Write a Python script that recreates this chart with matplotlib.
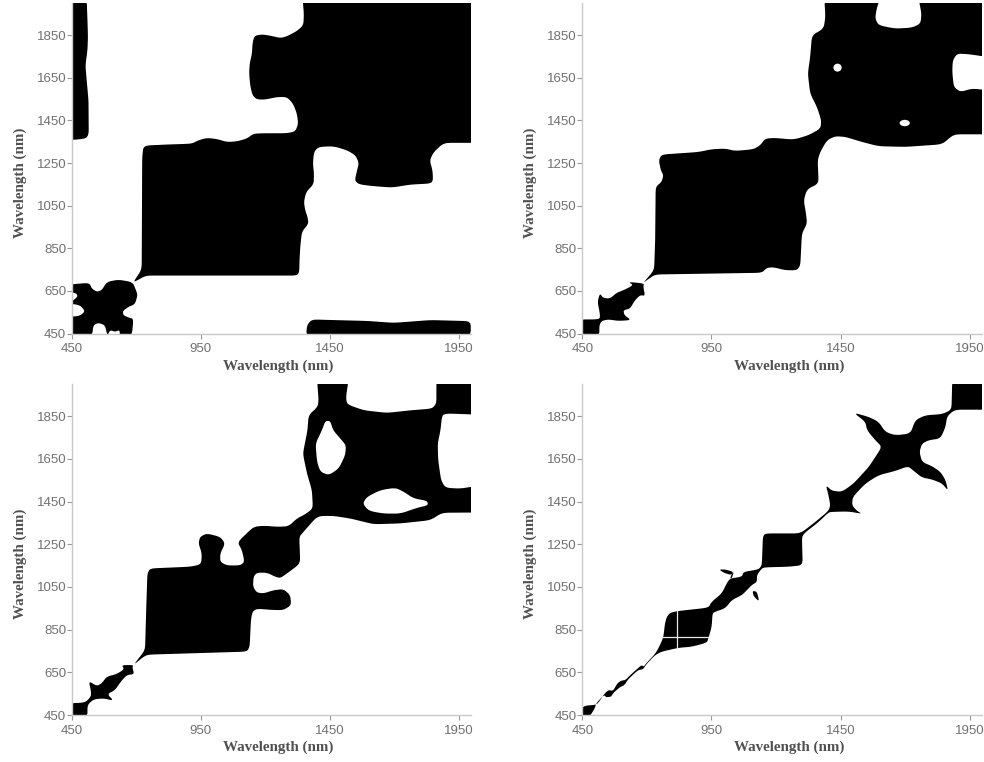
import matplotlib
matplotlib.use("Agg")
import math
import matplotlib.pyplot as plt

# Outlines of the black regions (wavelength x, wavelength y in nm)
a_strip = [(440,2020),(508,2020),(511,1920),(513,1842),(511,1779),(503,1709),(508,1639),(515,1545),(516,1388),(506,1365),(440,1357)]
a_main = [(1344,2020),(1349,1951),(1347,1897),(1322,1870),(1283,1845),(1258,1837),(1219,1848),(1186,1854),(1157,1847),
          (1150,1811),(1148,1764),(1139,1717),(1137,1670),(1141,1615),(1150,1568),(1167,1549),(1199,1548),(1245,1560),
          (1283,1560),(1307,1529),(1322,1482),(1327,1435),(1316,1399),(1283,1390),(1193,1390),(1154,1388),(1128,1365),
          (1090,1352),(1051,1349),(1012,1363),(973,1368),(941,1357),(915,1341),(818,1337),(728,1332),(723,1279),(721,763),
          (715,739),(689,692),(705,700),(728,716),(747,722),(1322,722),(1331,739),(1332,794),(1335,857),(1341,927),
          (1367,966),(1363,997),(1354,1029),(1349,1068),(1358,1115),(1387,1151),(1388,1201),(1384,1248),(1388,1302),
          (1406,1326),(1464,1329),(1516,1310),(1548,1287),(1562,1251),(1555,1216),(1546,1169),(1561,1151),(1606,1143),
          (1690,1135),(1761,1149),(1839,1154),(1849,1169),(1847,1216),(1836,1263),(1852,1302),(1891,1345),(2020,1345),(2020,2020)]
a_blob = [(440,680),(518,688),(528,661),(547,646),(566,653),(586,692),(631,703),(686,691),(699,653),(705,630),(695,588),
          (670,575),(648,556),(650,536),(670,525),(689,519),(683,440),(637,440),(635,466),(618,458),(599,466),(588,440),
          (579,489),(553,500),(534,489),(529,440),(440,440),(440,528),(482,533),(502,555),(482,583),(440,591),(473,622),
          (469,638),(440,646)]
a_bottom = [(1358,440),(1361,489),(1380,516),(1464,513),(1593,509),(1697,500),(1839,513),(1995,508),(1995,440)]

b_main = [(1387,2020),(1391,1936),(1384,1881),(1339,1850),(1332,1748),(1323,1670),(1332,1576),(1358,1514),(1375,1451),
          (1372,1412),(1326,1381),(1268,1360),(1197,1368),(1158,1365),(1139,1334),(1113,1315),(1042,1307),(1003,1318),
          (951,1315),(900,1302),(757,1290),(746,1263),(754,1216),(764,1193),(757,1162),(734,1138),(732,888),(728,747),
          (686,688),(703,703),(732,727),(1145,735),(1164,758),(1190,761),(1236,747),(1281,747),(1294,771),(1300,919),
          (1320,966),(1316,1013),(1307,1076),(1320,1127),(1365,1154),(1361,1263),(1371,1302),(1397,1357),(1429,1376),
          (1468,1373),(1533,1349),(1597,1329),(1701,1326),(1843,1338),(1888,1385),(2020,1385),(2020,1592),(1959,1600),
          (1914,1584),(1888,1607),(1882,1678),(1884,1732),(1901,1764),(1946,1761),(2020,1748),(2020,2020),(1752,2020),
          (1763,1951),(1759,1905),(1727,1886),(1662,1881),(1597,1897),(1584,1928),(1588,1967),(1601,2020)]
b_blob = [(440,440),(516,440),(516,489),(525,509),(551,516),(590,509),(639,513),(613,536),(609,559),(635,567),(654,606),
          (674,630),(693,627),(686,669),(689,685),(628,692),(648,677),(609,653),(583,641),(557,614),(531,617),(518,638),
          (509,599),(518,544),(518,520),(499,516),(440,516)]
b_hole1 = [(1421,1698),(1426,1712),(1438,1718),(1450,1712),(1455,1698),(1450,1684),(1438,1678),(1426,1684)]
b_hole2 = [(1677,1438),(1683,1449),(1698,1454),(1713,1449),(1719,1438),(1713,1427),(1698,1422),(1683,1427)]

c_main = [(1400,2020),(1406,1925),(1402,1894),(1367,1855),(1363,1785),(1345,1675),(1361,1582),(1380,1504),(1384,1418),
          (1354,1391),(1322,1371),(1290,1335),(1251,1332),(1193,1337),(1154,1332),(1092,1260),(1109,1223),(1119,1168),
          (1102,1151),(1051,1151),(1025,1168),(1025,1207),(1044,1254),(1025,1285),(973,1301),(947,1285),(941,1254),
          (954,1207),(951,1156),(909,1145),(754,1137),(743,1113),(738,926),(734,754),(689,684),(728,723),(747,733),
          (1128,747),(1139,770),(1144,895),(1150,934),(1167,948),(1232,942),(1270,942),(1300,965),(1296,1012),(1270,1040),
          (1232,1035),(1193,1020),(1167,1024),(1152,1051),(1154,1098),(1167,1117),(1206,1117),(1238,1098),(1258,1092),
          (1283,1113),(1335,1160),(1331,1285),(1348,1309),(1393,1371),(1413,1383),(1464,1383),(1529,1371),(1619,1344),
          (1723,1348),(1839,1363),(1884,1398),(2020,1399),(2020,1524),(1955,1511),(1897,1515),(1880,1551),(1869,1644),
          (1867,1722),(1878,1785),(1884,1855),(1904,1863),(2020,1858),(2020,2020),(1862,2020),(1862,1910),(1845,1886),
          (1761,1878),(1671,1866),(1581,1878),(1516,1906),(1512,1941),(1522,2020)]
c_blob = [(440,440),(511,440),(511,497),(534,523),(573,528),(612,517),(588,548),(618,567),(640,606),(663,637),(692,642),
          (685,673),(689,684),(644,684),(653,664),(624,642),(586,630),(566,598),(547,586),(516,609),(525,559),(524,536),
          (502,508),(440,505)]
c_hole1 = [(1432,1828),(1451,1828),(1462,1785),(1490,1746),(1512,1714),(1509,1668),(1484,1605),(1445,1574),(1413,1590),
           (1400,1636),(1394,1722),(1419,1785)]
c_hole2 = [(1577,1441),(1593,1472),(1645,1504),(1703,1515),(1736,1496),(1774,1465),(1826,1454),(1830,1433),(1787,1421),
           (1723,1394),(1658,1394),(1600,1407)]

d_main = [(1882,2020),(2020,2020),(2020,1881),(1892,1881),(1862,1850),(1856,1800),(1836,1746),(1791,1738),(1765,1722),
          (1755,1683),(1765,1636),(1804,1616),(1836,1590),(1856,1551),(1866,1501),(1843,1535),(1804,1554),(1765,1563),
          (1733,1594),(1711,1616),(1662,1594),(1597,1574),(1546,1535),(1497,1472),(1494,1433),(1513,1407),(1533,1393),
          (1481,1404),(1416,1402),(1403,1399),(1365,1355),(1300,1293),(1303,1152),(1248,1145),(1158,1142),(1145,1137),
          (1126,1106),(1126,1074),(1106,1059),(1087,1035),(1068,1012),(1029,989),(1003,950),(964,934),(954,926),(951,864),
          (938,809),(932,789),(874,770),(822,765),(757,747),(732,731),(698,688),(685,664),(666,661),(627,617),(614,591),
          (595,580),(569,552),(562,536),(543,533),(534,544),(504,505),(498,481),(485,455),(473,440),(440,440),(440,477),
          (462,494),(498,497),(511,505),(537,552),(552,567),(569,563),(586,599),(601,611),(617,614),(640,642),(670,674),
          (679,683),(688,677),(698,693),(734,739),(754,786),(764,817),(770,879),(777,910),(790,929),(818,937),(938,953),
          (951,981),(990,1020),(1009,1067),(1022,1090),(1068,1098),(1074,1121),(1132,1132),(1145,1152),(1149,1285),
          (1158,1301),(1294,1301),(1352,1355),(1403,1407),(1410,1433),(1403,1480),(1393,1527),(1416,1501),(1455,1496),
          (1500,1535),(1559,1613),(1610,1707),(1584,1738),(1552,1785),(1546,1824),(1500,1867),(1559,1847),(1597,1824),
          (1623,1777),(1662,1761),(1720,1769),(1739,1832),(1778,1855),(1843,1860),(1879,1881)]
d_island1 = [(980,1132),(1003,1132),(1035,1121),(1026,1106),(997,1117)]
d_stem = [(1022,1090),(1031,1117),(1036,1117),(1028,1090)]
d_island2 = [(1109,1032),(1126,1028),(1135,981),(1113,1007)]
d_gap_x = [818, 818]
d_gap_y = [762, 937]
d_gap2_x = [764, 938]
d_gap2_y = [817, 817]

xtick_vals = [450, 950, 1450, 1950]
ytick_vals = [450, 650, 850, 1050, 1250, 1450, 1650, 1850]

W, H = 984, 762
fig = plt.figure(figsize=(W / 100, H / 100), dpi=100)


def make_axes(left, right, top, bottom):
    ax = fig.add_axes([left / W, 1 - bottom / H, (right - left) / W, (bottom - top) / H])
    ax.set_xlim(450, 1996)
    ax.set_ylim(450, 2000)
    for s in ["top", "right"]:
        ax.spines[s].set_visible(False)
    for s in ["left", "bottom"]:
        ax.spines[s].set_color("#c8c8c8")
        ax.spines[s].set_linewidth(1.0)
    ax.set_xticks(xtick_vals)
    ax.set_yticks(ytick_vals)
    ax.tick_params(length=3.5, width=0.8, color="#999999", labelcolor="#707070", labelsize=9.5)
    ax.tick_params(axis="x", pad=3.5)
    ax.tick_params(axis="y", pad=0.5)
    for lab in ax.get_xticklabels() + ax.get_yticklabels():
        lab.set_fontfamily("Liberation Sans")
    ax.set_xlabel("Wavelength (nm)", family="Liberation Serif", weight="bold", fontsize=10.8, color="#505050")
    ax.set_ylabel("Wavelength (nm)", family="Liberation Serif", weight="bold", fontsize=10.8, color="#505050")
    ax.xaxis.set_label_coords(0.517, -0.078, transform=ax.transAxes)
    ax.yaxis.set_label_coords(-0.113, 0.456, transform=ax.transAxes)
    return ax


# round off the corners of an outline so it does not look faceted
# the cut is capped so long straight edges keep their square corners
def soften(pts, ratio=0.2, max_cut=12, passes=2):
    for _ in range(passes):
        out = []
        for i in range(len(pts)):
            x0, y0 = pts[i]
            x1, y1 = pts[(i + 1) % len(pts)]
            r = min(ratio, max_cut / max(math.hypot(x1 - x0, y1 - y0), 1))
            out.append((x0 + r * (x1 - x0), y0 + r * (y1 - y0)))
            out.append((x1 - r * (x1 - x0), y1 - r * (y1 - y0)))
        pts = out
    return pts


def fill_all(ax, shapes, color="black"):
    for pts in shapes:
        pts = soften(pts)
        ax.fill([p[0] for p in pts], [p[1] for p in pts], color=color, lw=0, zorder=2 if color == "black" else 3)


ax1 = make_axes(71.7, 471, 3.3, 333.5)
fill_all(ax1, [a_strip, a_main, a_blob, a_bottom])

ax2 = make_axes(582.3, 981.7, 3.3, 333.5)
fill_all(ax2, [b_main, b_blob])
fill_all(ax2, [b_hole1, b_hole2], "white")

ax3 = make_axes(71.7, 471, 384.3, 715)
fill_all(ax3, [c_main, c_blob])
fill_all(ax3, [c_hole1, c_hole2], "white")

ax4 = make_axes(582.3, 981.7, 384.3, 715)
fill_all(ax4, [d_main, d_island1, d_stem, d_island2])
ax4.plot(d_gap_x, d_gap_y, color="#e8e8e8", lw=0.9, zorder=3)
ax4.plot(d_gap2_x, d_gap2_y, color="#e8e8e8", lw=0.9, zorder=3)

fig.savefig("out.png", dpi=100)
